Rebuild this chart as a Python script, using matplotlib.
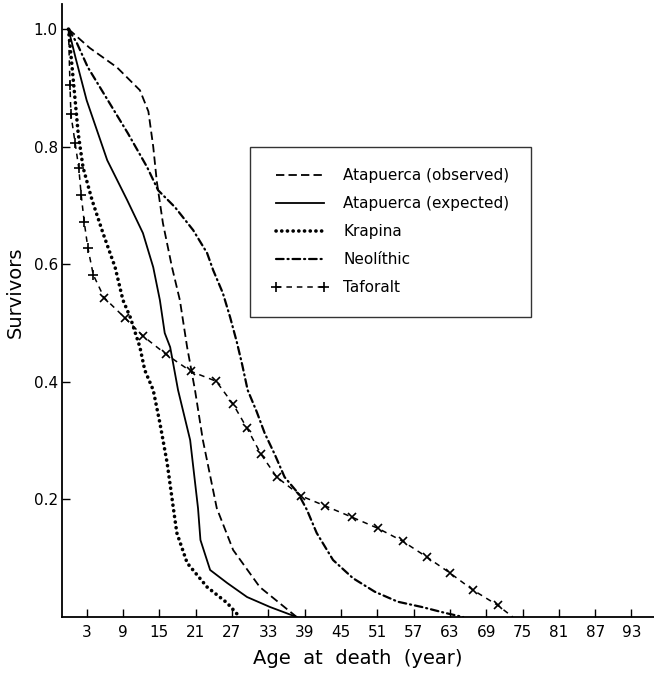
import numpy as np
import matplotlib
matplotlib.use('Agg')
import matplotlib.pyplot as plt
from matplotlib.lines import Line2D

# survivorship curves, values
obs_age = [0, 3.5, 8.0, 11.8, 13.2, 14.0, 14.6, 15.6, 17.1, 18.4, 19.6, 20.9, 22.2, 24.5, 27.2, 31.6, 37.7]
obs_s   = [1.0, 0.968, 0.935, 0.896, 0.86, 0.80, 0.74, 0.67, 0.595, 0.539, 0.459, 0.386, 0.301, 0.185, 0.114, 0.051, 0.0]

exp_age = [0, 1.2, 3.0, 6.4, 9.7, 12.3, 14.0, 15.1, 15.9, 16.8, 18.1, 20.1, 21.4, 21.8, 23.4, 26.2, 29.5, 33.3, 37.7]
exp_s   = [1.0, 0.95, 0.879, 0.777, 0.709, 0.653, 0.595, 0.539, 0.483, 0.459, 0.386, 0.301, 0.185, 0.131, 0.080, 0.058,
           0.034, 0.017, 0.0]

kra_age = [0, 0.6, 1.6, 2.4, 3.9, 5.7, 7.7, 9.0, 10.2, 11.8, 12.6, 14.0, 15.1, 16.3, 17.3, 17.9, 19.6, 22.9, 26.2, 28.3]
kra_s   = [1.0, 0.935, 0.823, 0.765, 0.709, 0.653, 0.595, 0.539, 0.510, 0.459, 0.420, 0.386, 0.330, 0.262, 0.187, 0.143, 0.092, 0.051, 0.024, 0.0]

neo_age = [0, 1.4, 3.2, 6.5, 9.8, 13.0, 14.8, 17.6, 20.6, 22.9, 23.9, 25.5, 26.7, 27.8, 28.7, 29.6, 31.1, 32.4,
           34.1, 35.7, 37.9, 39.4, 41.0, 43.7, 47.0, 50.6, 54.4, 58.4, 62.2, 65.2]
neo_s   = [1.0, 0.976, 0.935, 0.879, 0.823, 0.765, 0.726, 0.697, 0.658, 0.619, 0.590, 0.551, 0.510, 0.468, 0.429, 0.386,
           0.349, 0.313, 0.276, 0.238, 0.211, 0.182, 0.143, 0.097, 0.066, 0.043, 0.026, 0.017, 0.007, 0.0]

taf_age = [0, 0.25, 0.4, 1.1, 1.7, 2.1, 2.6, 3.2, 4.1, 5.9, 9.3, 12.3, 16.1, 20.2, 24.4, 27.2, 29.5, 31.8, 34.4,
           38.4, 42.4, 46.8, 51.1, 55.2, 59.2, 63.0, 66.8, 70.9, 73.4]
taf_s   = [1.0, 0.905, 0.855, 0.806, 0.764, 0.718, 0.672, 0.628, 0.582, 0.543, 0.509, 0.478, 0.447, 0.418, 0.401,
           0.362, 0.321, 0.277, 0.238, 0.206, 0.189, 0.170, 0.151, 0.129, 0.102, 0.075, 0.046, 0.020, 0.0]

labels = ['Atapuerca (observed)', 'Atapuerca (expected)', 'Krapina', 'Neolíthic', 'Taforalt']
xticks = list(range(3, 94, 6))
yticks = [0.2, 0.4, 0.6, 0.8, 1.0]

plt.rcParams['font.family'] = 'DejaVu Sans'
plt.rcParams['lines.scale_dashes'] = False

fig = plt.figure(figsize=(6.54, 6.75), dpi=100)
ax = fig.add_axes([0.0948, 0.0859, 0.905, 0.908])

dash_obs = (0, (6, 3))
dash_neo = (0, (5.5, 2.8, 0.8, 2.8))
dot_kra = (0, (0.1, 4.0))
dash_taf = (0, (4, 3.5))

ax.plot(obs_age, obs_s, color='black', lw=1.3, linestyle=dash_obs)
ax.plot(exp_age, exp_s, color='black', lw=1.3)
ax.plot(kra_age, kra_s, color='black', lw=2.6, linestyle=dot_kra, dash_capstyle='round')
ax.plot(neo_age, neo_s, color='black', lw=1.6, linestyle=dash_neo, dash_capstyle='round')
ax.plot(taf_age, taf_s, color='black', lw=1.1, linestyle=dash_taf)
ax.plot(taf_age[1:9], taf_s[1:9], '+', color='black', ms=7, mew=1.2)
ax.plot(taf_age[9:-1], taf_s[9:-1], 'x', color='black', ms=5.5, mew=1.2)

handles = [
    Line2D([], [], color='black', lw=1.3, linestyle=dash_obs),
    Line2D([], [], color='black', lw=1.3),
    Line2D([], [], color='black', lw=2.6, linestyle=dot_kra, dash_capstyle='round'),
    Line2D([], [], color='black', lw=1.6, linestyle=dash_neo, dash_capstyle='round'),
    Line2D([], [], color='black', lw=1.1, linestyle=dash_taf, marker='+', ms=7, mew=1.2),
]
leg = ax.legend(handles, labels, loc='upper left', bbox_to_anchor=(0.318, 0.767),
                borderaxespad=0, fontsize=11, frameon=True, fancybox=False,
                edgecolor='black', handlelength=3.7, handletextpad=1.0,
                borderpad=1.4, labelspacing=0.85, numpoints=2)
leg.get_frame().set_linewidth(1.0)

ax.set_xlim(-1.07, 96.7)
ax.set_ylim(0, 1.0425)
ax.set_xticks(xticks)
ax.set_yticks(yticks)
ax.set_yticklabels(['%.1f' % v for v in yticks])
ax.tick_params(direction='in', length=6, width=1, labelsize=11, colors='black')
ax.tick_params(axis='x', pad=6)
ax.tick_params(axis='y', pad=3)

for side in ['top', 'right']:
    ax.spines[side].set_visible(False)
for side in ['left', 'bottom']:
    ax.spines[side].set_linewidth(1.3)

ax.set_xlabel('Age  at  death  (year)', fontsize=14, labelpad=6)
ax.set_ylabel('Survivors', fontsize=14)
ax.yaxis.set_label_coords(-0.063, 0.53)

fig.savefig('out.png', dpi=100)
